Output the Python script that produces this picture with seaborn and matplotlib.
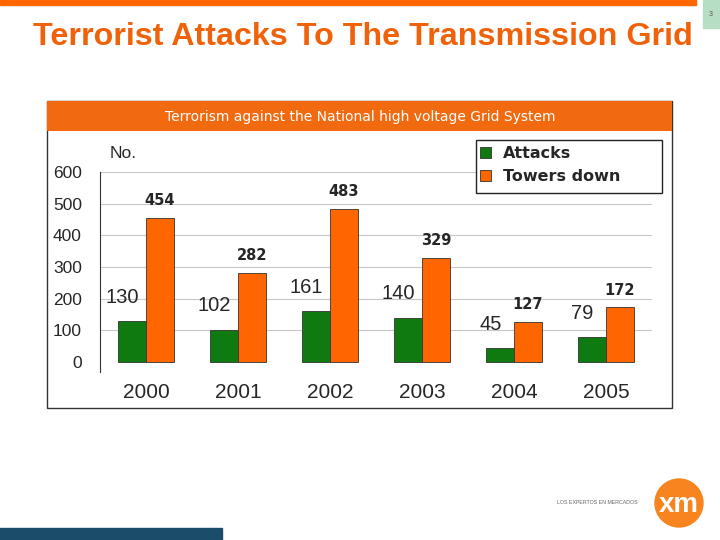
import pandas as pd
import matplotlib
matplotlib.use("Agg")
import matplotlib.pyplot as plt
from matplotlib.patches import Rectangle, Ellipse
import seaborn as sns

# datos del grafico
years = ["2000", "2001", "2002", "2003", "2004", "2005"]
attacks = [130, 102, 161, 140, 45, 79]
towers_down = [454, 282, 483, 329, 127, 172]
series_names = ["Attacks", "Towers down"]
y_ticks = [0, 100, 200, 300, 400, 500, 600]

title = "Terrorist Attacks To The Transmission Grid"
panel_title = "Terrorism against the National high voltage Grid System"

GREEN = "#0F7A10"
ORANGE = "#FF6600"
W, H = 720, 540


def fx(px):
    return px / W


def fy(py):
    return 1 - py / H


def main():
    sns.set_style("white")
    plt.rcParams['font.family'] = ['Liberation Sans', 'DejaVu Sans']

    df = pd.DataFrame({
        "Year": years * 2,
        "Value": attacks + towers_down,
        "Serie": [series_names[0]] * len(years) + [series_names[1]] * len(years),
    })

    fig = plt.figure(figsize=(7.2, 5.4), dpi=100)

    # decoracion de la diapositiva
    fig.patches.append(Rectangle((0, fy(5)), fx(696), 5 / H, transform=fig.transFigure,
                                 color=ORANGE, zorder=-2))
    fig.patches.append(Rectangle((fx(703), fy(28)), fx(17), 28 / H, transform=fig.transFigure,
                                 color="#B5DEC4", zorder=-2))
    fig.text(fx(711), fy(15), "3", fontsize=5, color="#555555", ha="center", va="center")
    fig.text(fx(33), fy(37), title, fontsize=23.2, fontweight="bold", color="#F0620A",
             ha="left", va="center")

    # panel del grafico
    fig.patches.append(Rectangle((fx(47), fy(408)), fx(625), 307 / H, transform=fig.transFigure,
                                 facecolor="white", edgecolor="#333333", lw=1, zorder=-2))
    fig.patches.append(Rectangle((fx(47), fy(131)), fx(625), 30 / H, transform=fig.transFigure,
                                 facecolor="#F26A10", edgecolor="none", zorder=-1))
    fig.text(fx(360), fy(117), panel_title, fontsize=10, color="white", ha="center",
             va="center", family=["DejaVu Sans"])

    ax = fig.add_axes([fx(100), fy(372), fx(552), 200 / H])
    ax.set_facecolor("none")
    sns.barplot(data=df, x="Year", y="Value", hue="Serie", hue_order=series_names,
                palette=[GREEN, ORANGE], saturation=1, width=0.6, gap=0,
                edgecolor="#333333", linewidth=0.6, ax=ax, zorder=3)

    ax.set_xlim(-0.5, 5.5)
    ax.set_ylim(-32, 600)
    ax.set_yticks(y_ticks)
    ax.yaxis.grid(True, color="#C8C8C8", lw=0.8, zorder=0)
    ax.get_ygridlines()[0].set_visible(False)
    ax.set_axisbelow(True)
    for s in ["top", "right", "bottom"]:
        ax.spines[s].set_visible(False)
    ax.spines["left"].set_color("#333333")
    ax.tick_params(axis="y", length=5, color="#333333", labelsize=12.5, pad=8)
    ax.tick_params(axis="x", which="major", length=0, labelsize=15, pad=8)
    ax.set_xticks([i + 0.5 for i in range(len(years) - 1)], minor=True)
    ax.tick_params(axis="x", which="minor", direction="in", length=7, color="#333333")
    ax.set_xlabel("")
    ax.set_ylabel("")

    # etiquetas de valores
    for i, v in enumerate(attacks):
        ax.annotate(str(v), (i - 0.15, v), xytext=(-7, 17), textcoords="offset points",
                    ha="center", va="center", fontsize=14.5)
    for i, v in enumerate(towers_down):
        ax.annotate(str(v), (i + 0.15, v), xytext=(0, 12.5), textcoords="offset points",
                    ha="center", va="center", fontsize=10.5, fontweight="bold",
                    family=["DejaVu Sans"])

    fig.text(fx(110), fy(153), "No.", fontsize=12.5, ha="left", va="center")

    # leyenda con marco propio
    fig.patches.append(Rectangle((fx(476), fy(193)), fx(186), 53 / H, transform=fig.transFigure,
                                 facecolor="white", edgecolor="#222222", lw=1, zorder=5))
    handles, labels = ax.get_legend_handles_labels()
    leg = ax.legend(handles, labels, loc="upper left", bbox_to_anchor=(fx(477), fy(143)),
                    bbox_transform=fig.transFigure, frameon=False, borderaxespad=0,
                    handlelength=0.65, handleheight=0.65, handletextpad=0.8,
                    borderpad=0.2, labelspacing=0.5,
                    prop={"family": "DejaVu Sans", "weight": "bold", "size": 11.5})
    leg.set_zorder(6)
    leg.remove()
    fig.add_artist(leg)

    # pie de la diapositiva
    fig.patches.append(Rectangle((0, 0), fx(222), 12 / H, transform=fig.transFigure,
                                 color="#1B4D6B", zorder=-2))
    fig.patches.append(Ellipse((fx(679), fy(503)), fx(48), 48 / H, transform=fig.transFigure,
                               color="#F7841F", zorder=-2))
    fig.text(fx(679), fy(505), "xm", fontsize=20, fontweight="bold", color="white",
             ha="center", va="center")
    fig.text(fx(557), fy(503), "LOS EXPERTOS EN MERCADOS", fontsize=3.8, color="#666666",
             ha="left", va="center")

    fig.savefig("out.png", dpi=100)
    plt.close(fig)


if __name__ == "__main__":
    main()
